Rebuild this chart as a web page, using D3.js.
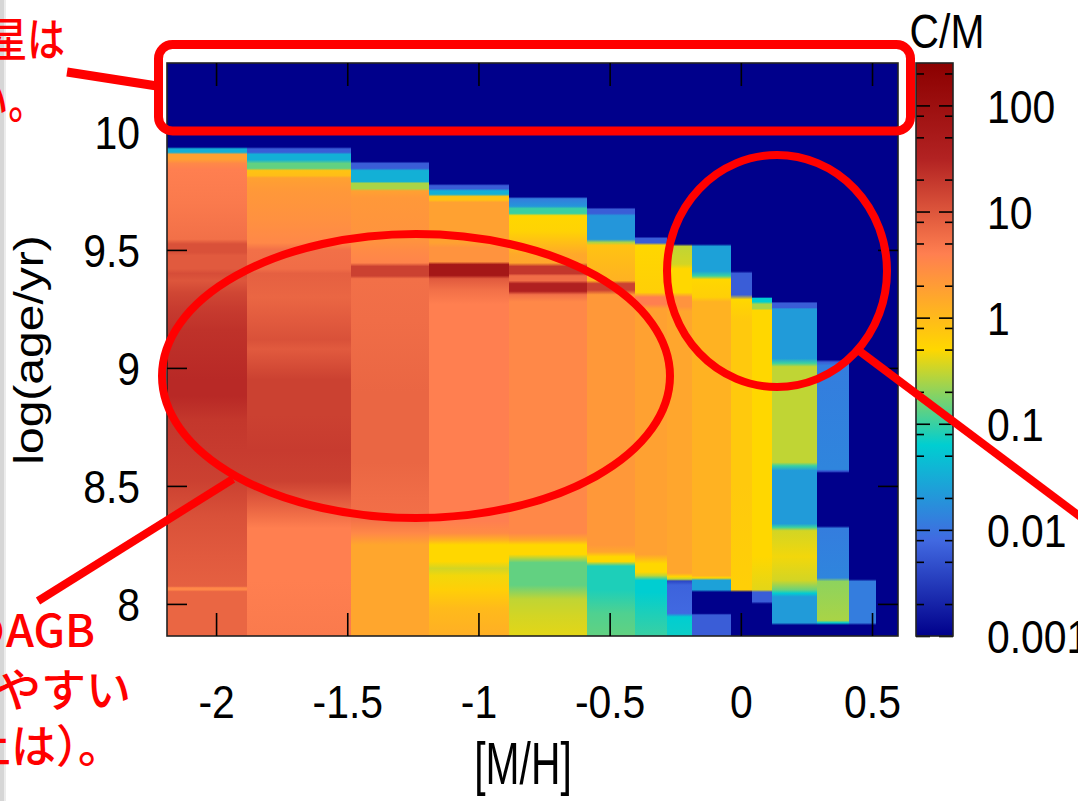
<!DOCTYPE html>
<html><head><meta charset="utf-8">
<script src="https://cdn.jsdelivr.net/npm/d3@7"></script>
<style>
html,body{margin:0;padding:0;background:#fff;}
svg{display:block;}
</style></head><body>
<svg id="chart" width="1078" height="801"></svg>
<script>
// ---------------- data ----------------
const mhTicks = [-2, -1.5, -1, -0.5, 0, 0.5];
const mhTickLabels = ["-2", "-1.5", "-1", "-0.5", "0", "0.5"];
const ageTicks = [8, 8.5, 9, 9.5, 10];
const ageTickLabels = ["8", "8.5", "9", "9.5", "10"];
const cmTicks = [0.001, 0.01, 0.1, 1, 10, 100];
const cmTickLabels = ["0.001", "0.01", "0.1", "1", "10", "100"];
const cmMinorTicks = [0.002, 0.005, 0.008, 0.02, 0.05, 0.08, 0.2, 0.5, 0.8, 2, 5, 8, 20, 50, 80, 200];
const mhRange = [-2.187, 0.599];
const ageRange = [7.864, 10.292];
const cmRange = [0.001, 251];
// palette (log10 C/M positions and colours)
const paletteLogCM = [-3, -2.1, -1.2, -0.3, 0.6, 1.5, 2.4];
const paletteColors = ["#00008b", "#4169e1", "#00ced1", "#ffd700", "#ff7f50", "#b22222", "#8b0000"];
// metallicity bin edges of the columns
const mhEdges = [-2.187, -1.882, -1.486, -1.188, -0.883, -0.586, -0.403, -0.281, -0.186, -0.037, 0.043, 0.119, 0.290, 0.412, 0.515, 0.599];
// each column: [log(age/yr), C/M] read from top to bottom
const col01 = [[10.292,0.001],[9.936,0.001],[9.928,0.034],[9.914,0.034],[9.905,1.8],[9.885,1.8],[9.866,3.2],[9.84,4],[9.70,4.5],[9.545,5.6],[9.525,11],[9.49,11],[9.476,9],[9.42,9],[9.40,12],[9.37,10],[9.32,14],[9.25,18],[9.16,22],[8.95,27],[8.88,27],[8.78,20],[8.65,18],[8.52,16],[8.37,11],[8.20,9],[8.075,8],[8.068,3.2],[8.06,3.2],[8.052,7],[7.864,7]];
const col02 = [[10.292,0.001],[9.936,0.001],[9.928,0.0063],[9.914,0.0063],[9.905,0.034],[9.882,0.034],[9.866,0.14],[9.846,0.14],[9.836,0.8],[9.815,0.9],[9.805,1.8],[9.75,2.2],[9.63,2.6],[9.53,3.2],[9.50,5.6],[9.42,6],[9.40,8],[9.30,7],[9.20,9],[9.12,11],[9.08,9],[8.95,16],[8.80,16],[8.65,18],[8.52,16],[8.44,9],[8.37,5.6],[8.32,4],[8.10,4],[7.864,4.5]];
const col03 = [[10.292,0.001],[9.875,0.001],[9.866,0.0063],[9.846,0.0063],[9.836,0.034],[9.79,0.034],[9.782,0.25],[9.76,0.25],[9.75,1.8],[9.72,2.2],[9.54,2.5],[9.50,3],[9.445,3.5],[9.43,16],[9.39,16],[9.378,5.6],[9.20,6],[8.90,7],[8.60,7],[8.45,6],[8.36,5.6],[8.30,3.2],[8.25,1.6],[7.864,1.6]];
const col04 = [[10.292,0.001],[9.78,0.001],[9.772,0.0063],[9.76,0.0063],[9.75,0.034],[9.736,0.034],[9.726,0.8],[9.712,0.8],[9.702,1.8],[9.53,1.8],[9.51,2.5],[9.45,2.5],[9.438,63],[9.392,63],[9.378,9],[9.33,5.6],[9.27,4],[8.35,4],[8.30,3],[8.27,1.2],[8.25,0.5],[8.18,0.5],[8.15,0.35],[8.12,0.45],[8.06,0.6],[7.98,1.0],[7.864,1.3]];
const col05 = [[10.292,0.001],[9.725,0.001],[9.717,0.012],[9.685,0.02],[9.675,0.1],[9.655,0.1],[9.645,0.5],[9.58,0.55],[9.53,0.9],[9.48,1.5],[9.445,1.6],[9.43,20],[9.40,20],[9.39,6],[9.37,6],[9.357,35],[9.325,35],[9.31,5.6],[9.28,3.2],[8.30,3.2],[8.27,1.5],[8.25,0.5],[8.21,0.5],[8.175,0.14],[8.08,0.14],[8.02,0.3],[7.95,0.35],[7.864,0.4]];
const col06 = [[10.292,0.001],[9.68,0.001],[9.672,0.0063],[9.655,0.0063],[9.645,0.02],[9.545,0.02],[9.532,0.25],[9.52,0.8],[9.37,1.2],[9.357,16],[9.33,16],[9.31,2.2],[8.25,2.2],[8.22,1.6],[8.20,0.5],[8.18,0.5],[8.16,0.08],[8.06,0.08],[7.96,0.12],[7.864,0.14]];
const col07 = [[10.292,0.001],[9.555,0.001],[9.55,0.0063],[9.53,0.0063],[9.52,0.5],[9.32,0.6],[9.30,4],[9.27,4],[9.25,1.8],[8.21,1.8],[8.17,0.5],[8.135,0.5],[8.12,0.3],[8.10,0.063],[8.05,0.063],[7.96,0.08],[7.864,0.1]];
const col08 = [[10.292,0.001],[9.525,0.001],[9.515,0.3],[9.44,0.35],[9.42,0.5],[9.32,0.5],[9.30,2.5],[9.26,2.5],[9.24,1.6],[8.13,1.6],[8.115,0.5],[8.105,0.3],[8.097,0.004],[8.08,0.007],[7.96,0.008],[7.945,0.063],[7.864,0.07]];
const col09 = [[10.292,0.001],[9.525,0.001],[9.515,0.025],[9.41,0.025],[9.39,0.1],[9.375,0.5],[9.30,0.6],[9.28,1.2],[8.12,1.2],[8.11,0.5],[8.10,0.025],[8.06,0.025],[8.05,0.001],[7.96,0.001],[7.953,0.0063],[7.864,0.0063]];
const col10 = [[10.292,0.001],[9.41,0.001],[9.40,0.0063],[9.31,0.0063],[9.29,0.5],[9.20,0.7],[8.50,0.7],[8.08,0.6],[8.06,0.6],[8.05,0.001],[7.864,0.001]];
const col11 = [[10.292,0.001],[9.30,0.001],[9.295,0.063],[9.28,0.063],[9.27,0.25],[9.25,0.25],[9.245,0.5],[8.20,0.5],[8.06,0.4],[8.05,0.0063],[8.01,0.0063],[8.00,0.001],[7.864,0.001]];
const col12 = [[10.292,0.001],[9.28,0.001],[9.275,0.0063],[9.255,0.0063],[9.25,0.022],[9.04,0.022],[9.02,0.1],[9.005,0.3],[8.60,0.3],[8.585,0.1],[8.565,0.022],[8.34,0.022],[8.325,0.1],[8.31,0.35],[8.20,0.45],[8.10,0.35],[8.06,0.15],[8.045,0.06],[8.03,0.022],[7.92,0.022],[7.91,0.001],[7.864,0.001]];
const col13 = [[10.292,0.001],[9.035,0.001],[9.025,0.0063],[9.01,0.012],[8.57,0.014],[8.562,0.005],[8.555,0.001],[8.33,0.001],[8.32,0.012],[8.11,0.014],[8.095,0.2],[7.93,0.25],[7.92,0.06],[7.91,0.001],[7.864,0.001]];
const col14 = [[10.292,0.001],[8.105,0.001],[8.095,0.012],[7.92,0.012],[7.91,0.001],[7.864,0.001]];
const col15 = [[10.292,0.001],[7.864,0.001]];
const profiles = [col01, col02, col03, col04, col05, col06, col07, col08, col09, col10, col11, col12, col13, col14, col15];

// annotation texts
const noteTopLines = ["恒星は", "少ない。"];
const noteBottomLines = ["星のAGB", "なりやすい", "以上は", "）", "。"];
const xLabel = "[M/H]";
const yLabel = "log(age/yr)";
const cbLabel = "C/M";

// ---------------- layout ----------------
const L = 167, R = 898, T = 63, B = 636;
const CBL = 916, CBR = 953;
const LATIN = "'Liberation Sans', Arial, Helvetica, sans-serif";
const CJK = "'Noto Sans CJK JP', 'Noto Sans CJK SC', sans-serif";
const RED = "#ff0000";

const svg = d3.select("#chart");
const defs = svg.append("defs");

svg.append("rect").attr("x", 0).attr("y", 0).attr("width", 1078).attr("height", 801).attr("fill", "#fff");
svg.append("rect").attr("x", 0).attr("y", 0).attr("width", 4).attr("height", 801).attr("fill", "#d6d6d6");
svg.append("rect").attr("x", 4).attr("y", 0).attr("width", 2).attr("height", 801).attr("fill", "#ececec");

const x = d3.scaleLinear().domain(mhRange).range([L, R]);
const y = d3.scaleLinear().domain(ageRange).range([B, T]);
const cb = d3.scaleLog().domain(cmRange).range([B, T]);
const pal = d3.scaleLinear().domain(paletteLogCM).range(paletteColors).clamp(true);
const colour = v => pal(Math.log10(v));

// ---------------- heatmap ----------------
const plot = svg.append("g");
plot.append("rect").attr("x", L).attr("y", T).attr("width", R - L).attr("height", B - T).attr("fill", colour(cmRange[0]));
profiles.forEach((prof, i) => {
  const id = "col" + i;
  const lg = defs.append("linearGradient").attr("id", id)
    .attr("gradientUnits", "userSpaceOnUse").attr("x1", 0).attr("x2", 0).attr("y1", T).attr("y2", B);
  prof.forEach(([a, v]) => {
    lg.append("stop").attr("offset", Math.max(0, Math.min(1, (y(a) - T) / (B - T)))).attr("stop-color", colour(v));
  });
  plot.append("rect")
    .attr("x", x(mhEdges[i])).attr("width", x(mhEdges[i + 1]) - x(mhEdges[i]) + 0.4)
    .attr("y", T).attr("height", B - T)
    .attr("fill", `url(#${id})`).attr("shape-rendering", "crispEdges");
});

// ---------------- axes ----------------
function styleAxis(g) {
  g.select(".domain").remove();
  g.selectAll(".tick line").attr("stroke", "#000").attr("stroke-width", 1.6);
  g.attr("font-family", LATIN).attr("font-size", 47);
}
const SX = 0.87;
const gx = svg.append("g").attr("transform", `translate(0,${B})`)
  .call(d3.axisBottom(x).tickValues(mhTicks).tickSize(-23).tickFormat((d, i) => mhTickLabels[i]));
styleAxis(gx);
gx.selectAll("text").attr("y", 82).attr("dy", null).attr("fill", "#000").attr("transform", `scale(${SX},1)`);

const gxt = svg.append("g").attr("transform", `translate(0,${T})`)
  .call(d3.axisTop(x).tickValues(mhTicks).tickSize(-23).tickFormat(""));
styleAxis(gxt);

const gy = svg.append("g").attr("transform", `translate(${L},0)`)
  .call(d3.axisLeft(y).tickValues(ageTicks).tickSize(-20).tickFormat((d, i) => ageTickLabels[i]));
styleAxis(gy);
gy.selectAll("text").attr("x", -27 / SX).attr("y", 16.8).attr("dy", null).attr("fill", "#000").attr("transform", `scale(${SX},1)`);

const gyr = svg.append("g").attr("transform", `translate(${R},0)`)
  .call(d3.axisRight(y).tickValues(ageTicks).tickSize(-20).tickFormat(""));
styleAxis(gyr);

plot.append("rect").attr("x", L).attr("y", T).attr("width", R - L).attr("height", B - T)
  .attr("fill", "none").attr("stroke", "#222").attr("stroke-width", 1.6);

// axis titles
svg.append("text").attr("transform", `translate(523,784) scale(0.68,1)`)
  .attr("text-anchor", "middle").attr("font-family", LATIN).attr("font-size", 60).attr("fill", "#000").text(xLabel);
svg.append("text").attr("transform", `translate(43,350) rotate(-90) scale(1,0.865)`)
  .attr("text-anchor", "middle").attr("font-family", LATIN).attr("font-size", 48).attr("fill", "#000").text(yLabel);

// ---------------- colour bar ----------------
const cbg = defs.append("linearGradient").attr("id", "cbgrad")
  .attr("gradientUnits", "userSpaceOnUse").attr("x1", 0).attr("x2", 0).attr("y1", B).attr("y2", T);
paletteLogCM.forEach((p, i) => {
  cbg.append("stop").attr("offset", (B - cb(Math.pow(10, p))) / (B - T)).attr("stop-color", paletteColors[i]);
});
svg.append("rect").attr("x", CBL).attr("y", T).attr("width", CBR - CBL).attr("height", B - T).attr("fill", "url(#cbgrad)");

const gcbR = svg.append("g").attr("transform", `translate(${CBR},0)`)
  .call(d3.axisRight(cb).tickValues(cmTicks).tickSize(-14).tickFormat((d, i) => cmTickLabels[i]));
styleAxis(gcbR);
gcbR.selectAll("text").attr("x", 34 / SX).attr("y", 16.8).attr("dy", null).attr("fill", "#000")
  .attr("text-anchor", "start").attr("transform", `scale(${SX},1)`);
const gcbL = svg.append("g").attr("transform", `translate(${CBL},0)`)
  .call(d3.axisLeft(cb).tickValues(cmTicks).tickSize(-14).tickFormat(""));
styleAxis(gcbL);
const gcbRm = svg.append("g").attr("transform", `translate(${CBR},0)`)
  .call(d3.axisRight(cb).tickValues(cmMinorTicks).tickSize(-8).tickFormat(""));
styleAxis(gcbRm);
const gcbLm = svg.append("g").attr("transform", `translate(${CBL},0)`)
  .call(d3.axisLeft(cb).tickValues(cmMinorTicks).tickSize(-8).tickFormat(""));
styleAxis(gcbLm);
svg.append("rect").attr("x", CBL).attr("y", T).attr("width", CBR - CBL).attr("height", B - T)
  .attr("fill", "none").attr("stroke", "#222").attr("stroke-width", 1.6);
svg.append("text").attr("transform", `translate(947,48) scale(0.85,1)`)
  .attr("text-anchor", "middle").attr("font-family", LATIN).attr("font-size", 48).attr("fill", "#000").text(cbLabel);

// ---------------- red annotations ----------------
const ann = svg.append("g").attr("fill", "none").attr("stroke", RED);
ann.append("rect").attr("x", 158.5).attr("y", 44.5).attr("width", 752).attr("height", 86.5).attr("rx", 14).attr("stroke-width", 9);
ann.append("ellipse").attr("cx", 416).attr("cy", 376).attr("rx", 254).attr("ry", 142).attr("stroke-width", 8);
ann.append("ellipse").attr("cx", 777).attr("cy", 271).attr("rx", 110).attr("ry", 116).attr("stroke-width", 8);
ann.append("line").attr("x1", 67).attr("y1", 72).attr("x2", 157).attr("y2", 86).attr("stroke-width", 9);
ann.append("line").attr("x1", 233).attr("y1", 479).attr("x2", 38).attr("y2", 601).attr("stroke-width", 8);
ann.append("line").attr("x1", 858).attr("y1", 350).attr("x2", 1090).attr("y2", 524).attr("stroke-width", 8);

const notes = svg.append("g").attr("fill", RED).attr("font-family", CJK).attr("font-weight", 500);
notes.append("text").attr("transform", "translate(65,56) scale(0.82,1)").attr("text-anchor", "end").attr("font-size", 46).text(noteTopLines[0]);
notes.append("text").attr("transform", "translate(46,118) scale(0.82,1)").attr("text-anchor", "end").attr("font-size", 46).text(noteTopLines[1]);
notes.append("text").attr("x", 95).attr("y", 647).attr("text-anchor", "end").attr("font-size", 45).text(noteBottomLines[0]);
notes.append("text").attr("x", 131).attr("y", 707).attr("text-anchor", "end").attr("font-size", 45).text(noteBottomLines[1]);
const l3 = notes.append("text").attr("y", 763).attr("font-size", 45);
l3.append("tspan").attr("x", 56).attr("text-anchor", "end").text(noteBottomLines[2]);
l3.append("tspan").attr("x", 56).attr("text-anchor", "start").text(noteBottomLines[3]);
l3.append("tspan").attr("x", 78).attr("text-anchor", "start").text(noteBottomLines[4]);
</script>
</body></html>
